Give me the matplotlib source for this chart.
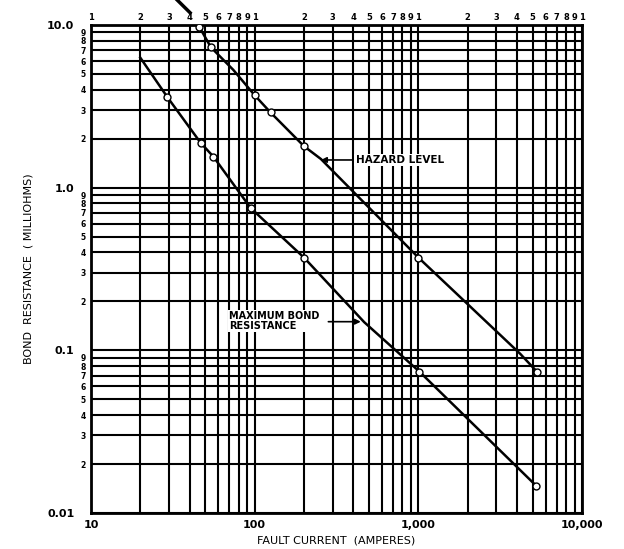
import numpy as np
import matplotlib
matplotlib.use("Agg")
import matplotlib.pyplot as plt
from matplotlib.ticker import FixedLocator, NullFormatter

# Hazard level curve (fault current in A, resistance in milliohms)
hazard_current = [46, 54, 74, 100, 125, 200, 254, 1000, 4200, 5300]
hazard_res = [9.7, 7.3, 5.3, 3.7, 2.9, 1.8, 1.5, 0.372, 0.095, 0.074]
hazard_marks = [0, 1, 3, 4, 5, 7, 9]

# Short stroke above the chart continuing the hazard line
hazard_ext_current = [33.5, 40.3]
hazard_ext_res = [14.3, 11.9]

# Maximum bond resistance curve
bond_current = [20, 29.3, 46.7, 56, 94.5, 200, 467, 1015, 5250]
bond_res = [6.3, 3.6, 1.89, 1.55, 0.75, 0.372, 0.149, 0.074, 0.0147]
bond_marks = [1, 2, 3, 4, 5, 7, 8]

x_major = [10, 100, 1000, 10000]
x_major_labels = ["10", "100", "1,000", "10,000"]
y_major = [0.01, 0.1, 1.0, 10.0]
y_major_labels = ["0.01", "0.1", "1.0", "10.0"]
digits = [2, 3, 4, 5, 6, 7, 8, 9]

plt.rcParams['font.family'] = ['DejaVu Sans']
plt.rcParams['font.weight'] = 'bold'

fig = plt.figure(figsize=(6.24, 5.49), dpi=100)
ax = fig.add_axes([91 / 624, 1 - 513 / 549, 491 / 624, 488 / 549])
ax.set_xscale('log')
ax.set_yscale('log')
ax.set_xlim(10, 10000)
ax.set_ylim(0.01, 10)

# minor positions in each decade
x_minor = [d * 10 ** e for e in range(1, 4) for d in digits]
y_minor = [d * 10.0 ** e for e in range(-2, 1) for d in digits]

ax.xaxis.set_major_locator(FixedLocator(x_major))
ax.xaxis.set_minor_locator(FixedLocator(x_minor))
ax.set_xticklabels(x_major_labels)
ax.xaxis.set_minor_formatter(NullFormatter())
ax.tick_params(axis='x', which='both', length=0, pad=5, labelsize=8)

ax.yaxis.set_major_locator(FixedLocator(y_major))
ax.yaxis.set_minor_locator(FixedLocator(y_minor))
ax.set_yticklabels(y_major_labels)
ax.yaxis.set_minor_formatter(plt.FuncFormatter(lambda v, p: str(int(round(v / 10 ** np.floor(np.log10(v) + 1e-9))))))
ax.tick_params(axis='y', which='major', length=0, pad=12, labelsize=8)
ax.tick_params(axis='y', which='minor', length=0, pad=4, labelsize=5.5)

# top axis: 1..9 in each decade
top = ax.secondary_xaxis('top')
top_pos = [d * 10 ** e for e in range(1, 4) for d in range(1, 10)] + [10000]
top.xaxis.set_major_locator(FixedLocator(top_pos))
top.xaxis.set_minor_locator(FixedLocator([]))
top.set_xticklabels([str(d) for e in range(1, 4) for d in range(1, 10)] + ["1"])
top.tick_params(length=0, pad=2, labelsize=6)
top.spines['top'].set_visible(False)

ax.grid(which='both', color='black', lw=1.5)
for s in ax.spines.values():
    s.set_linewidth(2)
    s.set_color('black')

ax.plot(hazard_current, hazard_res, color='black', lw=1.8, zorder=3)
ax.plot([hazard_current[i] for i in hazard_marks], [hazard_res[i] for i in hazard_marks],
        'o', mfc='white', mec='black', ms=5, mew=1, zorder=4)
ax.plot(hazard_ext_current, hazard_ext_res, color='black', lw=2.5, clip_on=False, zorder=3)

ax.plot(bond_current, bond_res, color='black', lw=1.8, zorder=3)
ax.plot([bond_current[i] for i in bond_marks], [bond_res[i] for i in bond_marks],
        'o', mfc='white', mec='black', ms=5, mew=1, zorder=4)

ax.annotate("HAZARD LEVEL", xy=(254, 1.48), xytext=(415, 1.48),
            fontsize=7.5, va='center', ha='left',
            bbox=dict(fc='white', ec='none', pad=1),
            arrowprops=dict(arrowstyle='-|>', color='black', lw=1.2, mutation_scale=8,
                            shrinkA=0, shrinkB=0), zorder=5)
ax.text(70, 0.152, "MAXIMUM BOND\nRESISTANCE", fontsize=7, va='center', ha='left',
        linespacing=0.95, bbox=dict(fc='white', ec='none', pad=1), zorder=5)
ax.annotate("", xy=(445, 0.15), xytext=(282, 0.15),
            arrowprops=dict(arrowstyle='-|>', color='black', lw=1.2, mutation_scale=8,
                            shrinkA=0, shrinkB=0), zorder=5)

ax.set_xlabel("FAULT CURRENT  (AMPERES)", fontsize=8, labelpad=4)
ax.set_ylabel("BOND  RESISTANCE  ( MILLIOHMS)", fontsize=8, labelpad=10)

fig.savefig("out.png", dpi=100)
